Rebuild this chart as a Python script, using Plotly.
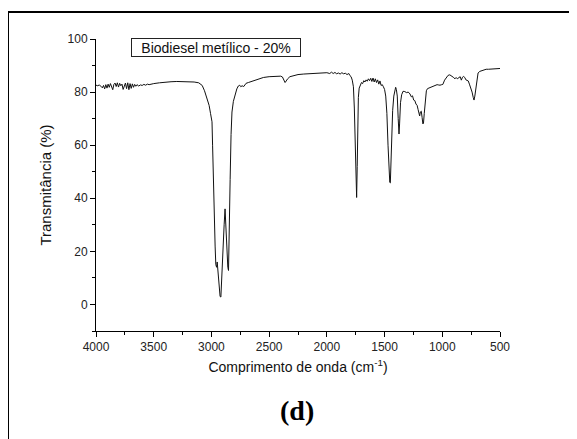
import plotly.graph_objects as go

# Wavenumber (cm^-1) and transmittance (%)
wavenumber = [
    4000, 3985, 3970, 3955, 3945, 3935, 3925, 3915, 3905, 3895, 3885, 3875, 3865, 3855,
    3845, 3835, 3825, 3815, 3805, 3795, 3785, 3775, 3765, 3755, 3745, 3735, 3725, 3715,
    3705, 3695, 3685, 3675, 3665, 3655, 3645, 3630, 3615, 3600, 3585, 3570, 3555, 3540,
    3520, 3500, 3450, 3400, 3350, 3300, 3250, 3200, 3150, 3110, 3080, 3060, 3040, 3020,
    3008, 3000, 2995, 2990, 2984, 2976, 2968, 2962, 2955, 2950, 2945, 2935, 2925, 2918,
    2910, 2900, 2890, 2882, 2876, 2868, 2858, 2852, 2845, 2838, 2830, 2822, 2810, 2796,
    2780, 2767, 2755, 2745, 2735, 2720, 2700, 2680, 2650, 2620, 2590, 2550, 2500, 2450,
    2400, 2385, 2370, 2362, 2352, 2340, 2320, 2290, 2250, 2200, 2150, 2100, 2050, 2000,
    1975, 1960, 1945, 1930, 1915, 1900, 1885, 1870, 1855, 1840, 1825, 1810, 1800, 1790,
    1780, 1770, 1762, 1755, 1748, 1742, 1737, 1732, 1727, 1720, 1712, 1700, 1690, 1680,
    1670, 1660, 1650, 1640, 1630, 1620, 1610, 1600, 1590, 1580, 1570, 1560, 1550, 1540,
    1530, 1520, 1510, 1500, 1490, 1480, 1470, 1462, 1455, 1450, 1445, 1438, 1430, 1420,
    1410, 1404, 1398, 1390, 1382, 1375, 1370, 1362, 1352, 1340, 1325, 1310, 1295, 1280,
    1268, 1258, 1248, 1238, 1228, 1218, 1210, 1202, 1196, 1190, 1182, 1175, 1168, 1163,
    1156, 1148, 1138, 1128, 1110, 1095, 1080, 1060, 1045, 1035, 1020, 1005, 995, 980,
    965, 950, 935, 920, 905, 890, 880, 870, 858, 845, 835, 825, 815, 805,
    795, 785, 775, 765, 752, 742, 732, 725, 718, 710, 700, 690, 675, 660,
    640, 620, 600, 580, 560, 540, 520, 500,
]
transmittance = [
    82.6, 82.4, 82.7, 82.2, 81.6, 82.5, 81.2, 82.8, 81.5, 83.0, 81.8, 83.2, 82.0, 80.9,
    82.9, 83.4, 82.1, 83.5, 81.9, 83.3, 82.4, 83.0, 81.0, 82.6, 83.4, 81.3, 83.5, 80.9,
    83.2, 81.4, 83.1, 81.8, 82.9, 82.2, 82.8, 82.3, 82.7, 82.5, 82.9, 82.6, 83.0, 82.8,
    83.1, 83.2, 83.5, 83.8, 83.9, 84.0, 84.0, 83.9, 83.8, 83.5, 82.5, 80.5, 78.0, 75.0,
    72.0, 69.5, 68.8, 60.0, 47.0, 33.0, 22.0, 15.0, 14.0, 16.0, 13.0, 7.0, 3.0, 2.8,
    12.0, 23.0, 30.0, 36.0, 30.0, 22.0, 14.0, 12.8, 25.0, 47.0, 64.0, 72.5, 76.5, 79.0,
    81.2, 82.3, 82.6, 82.0, 82.4, 82.1, 83.3, 83.6, 84.0, 84.6, 85.0, 85.5, 85.8, 85.9,
    86.0, 85.7, 84.5, 83.6, 84.2, 85.0, 85.8, 86.2, 86.6, 86.8, 86.9, 87.0, 87.2, 87.3,
    87.0, 87.5, 87.0, 87.4, 86.9, 87.2, 86.8, 87.3, 86.9, 87.1, 86.6, 87.0, 86.2, 85.8,
    84.5, 82.0, 74.0, 58.0, 45.0, 40.3, 52.0, 68.0, 78.0, 81.5, 82.3, 83.6, 83.2, 84.3,
    83.8, 84.6, 84.1, 85.0, 84.3, 85.2, 84.0, 85.3, 83.8, 85.0, 83.6, 84.6, 83.0, 84.2,
    82.5, 82.8, 82.0, 81.0, 78.5, 72.0, 60.0, 48.0, 46.0, 45.8, 52.0, 65.0, 73.0, 78.5,
    81.5, 81.8, 81.0, 78.5, 70.0, 64.2, 68.0, 76.0, 79.0, 80.3, 80.2, 79.8, 80.0, 79.3,
    78.2, 78.6, 77.0, 76.8, 75.5, 75.0, 73.5, 71.5, 71.0, 72.5, 72.8, 70.5, 68.0, 68.3,
    72.0, 77.0, 80.5, 81.3, 81.6, 82.0, 82.4, 82.6, 82.8, 82.7, 82.6, 82.8, 82.9, 84.5,
    85.5, 86.3, 86.5, 86.2, 85.6, 85.0, 85.5, 85.0, 85.4, 85.8, 84.5, 85.6, 85.9, 85.5,
    84.6, 84.5, 84.2, 83.0, 81.5, 80.0, 78.0, 77.0, 78.5, 81.0, 84.0, 87.2, 87.8, 88.0,
    88.5, 88.6, 88.6, 88.7, 88.7, 88.8, 88.8, 88.9,
]

x_ticks = [4000, 3500, 3000, 2500, 2000, 1500, 1000, 500]
y_ticks = [0, 20, 40, 60, 80, 100]

sample_label = "Biodiesel metílico - 20%"
panel_label = "(d)"

fig = go.Figure()
fig.add_trace(go.Scatter(
    x=wavenumber, y=transmittance, mode="lines",
    line=dict(color="#111111", width=1), showlegend=False,
))

sans = "Liberation Sans, Arial, sans-serif"
axis_font = dict(family=sans, size=12, color="#222222")

# The page body adds an 8px offset, so margins are reduced by 8 on left/top
fig.update_layout(
    width=577, height=439,
    margin=dict(l=88, r=85, t=31, b=116),
    paper_bgcolor="white", plot_bgcolor="white",
    xaxis=dict(
        range=[4000, 500], tickvals=x_ticks, ticktext=[str(v) for v in x_ticks],
        showline=True, linecolor="black", linewidth=1, mirror=False,
        ticks="outside", ticklen=5, tickcolor="black", tickwidth=1,
        minor=dict(dtick=250, ticks="outside", ticklen=3, tickcolor="black", showgrid=False),
        showgrid=False, zeroline=False, tickfont=axis_font,
        title=dict(text="Comprimento de onda (cm<sup>-1</sup>)",
                   font=dict(family=sans, size=14, color="#111111"),
                   standoff=8),
    ),
    yaxis=dict(
        range=[-10, 100], tickvals=y_ticks, ticktext=[str(v) for v in y_ticks],
        showline=True, linecolor="black", linewidth=1, mirror=False,
        ticks="outside", ticklen=5, tickcolor="black", tickwidth=1,
        minor=dict(tick0=0, dtick=10, ticks="outside", ticklen=3, tickcolor="black", showgrid=False),
        showgrid=False, zeroline=False, tickfont=axis_font,
        title=dict(text="Transmitância (%)",
                   font=dict(family=sans, size=15, color="#111111"),
                   standoff=12),
    ),
    annotations=[
        dict(text=sample_label, xref="paper", yref="paper", x=0.297, y=0.971,
             xanchor="center", yanchor="middle", showarrow=False,
             font=dict(family=sans, size=14, color="#111111"),
             bordercolor="#222222", borderwidth=1, borderpad=1, width=166, height=15,
             bgcolor="white"),
        dict(text="<b>" + panel_label + "</b>", xref="paper", yref="paper",
             x=(297 - 96) / 404, y=(331 - 410) / 292, xanchor="center", yanchor="middle",
             showarrow=False,
             font=dict(family="Liberation Serif, Times New Roman, serif", size=28, color="black")),
    ],
    shapes=[
        dict(type="rect", xref="paper", yref="paper",
             x0=(8 - 96) / 404, x1=(570 - 96) / 404,
             y0=(331 - 470) / 292, y1=(331 - 12) / 292,
             line=dict(color="black", width=2), fillcolor="rgba(0,0,0,0)", layer="below"),
    ],
)

fig.write_html("out.html")
